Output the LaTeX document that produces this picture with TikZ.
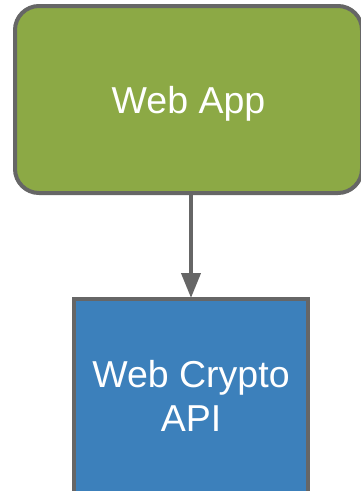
\documentclass[tikz,border=0pt]{standalone}
\usepackage{fontspec}
\setmainfont{Liberation Sans}
\usetikzlibrary{arrows.meta}
\definecolor{appgreen}{HTML}{8CA945}
\definecolor{apiblue}{HTML}{3C80BB}
\definecolor{edgegrey}{HTML}{666666}
\begin{document}
\begin{tikzpicture}[x=1pt,y=1pt,
  box/.style={draw=edgegrey, line width=4pt, text=white, align=center,
    font=\fontsize{37.5}{44}\selectfont, inner sep=0pt},
  link/.style={draw=edgegrey, line width=4pt,
    -{Triangle[width=19pt,length=25pt]}, shorten >=-1pt}]
  \useasboundingbox (0,0) rectangle (360,-491);
  % application box (runs past the right edge)
  \node[box, fill=appgreen, rounded corners=24pt, text depth=0pt,
        minimum width=347pt, minimum height=187pt] (app) at (188.5,-99.5) {Web App};
  % API box (runs past the bottom edge)
  \node[box, fill=apiblue, minimum width=234pt, minimum height=194pt]
        (api) at (191,-396) {Web Crypto\\API};
  \draw[link] (api.north |- app.south) -- (api.north);
\end{tikzpicture}
\end{document}
